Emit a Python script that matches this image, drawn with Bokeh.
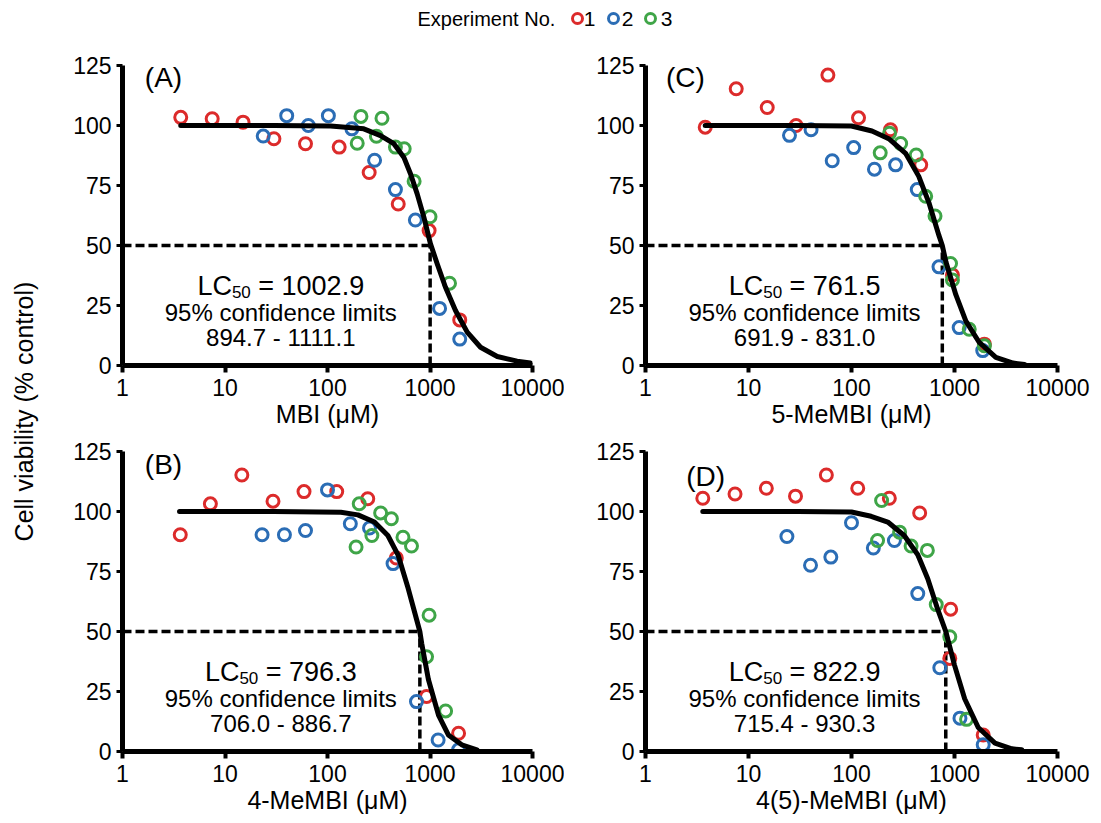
import math
from bokeh.plotting import figure
from bokeh.layouts import row, column
from bokeh.models import Range1d, FixedTicker, NumeralTickFormatter
from bokeh.core.properties import value
from bokeh.embed import file_html
from bokeh.resources import INLINE

FONT = "Liberation Sans"
RED, BLUE, GREEN = "#dc2b2b", "#2b6db5", "#3fa548"

# ---------------- data ----------------
legend_title = "Experiment No."
experiments = ["1", "2", "3"]
y_label = "Cell viability (% control)"
x_ticks = [1, 10, 100, 1000, 10000]
y_ticks = [0, 25, 50, 75, 100, 125]

# Panel A - MBI
a_label = "(A)"
a_xlabel = "MBI (μM)"
a_lc50 = 1002.9
a_ci = "894.7 - 1111.1"
a_x1 = [3.7, 7.5, 15, 30, 61, 130, 255, 490, 980, 1950]
a_y1 = [103.4, 102.8, 101.4, 94.5, 92.4, 91.0, 80.4, 67.3, 56.2, 19.0]
a_x2 = [23.6, 40, 65, 102, 173, 288, 460, 720, 1240, 1950]
a_y2 = [95.6, 104.1, 100.0, 104.1, 98.6, 85.5, 73.3, 60.6, 23.8, 11.0]
a_x3 = [195, 212, 300, 340, 460, 560, 700, 1000, 1550]
a_y3 = [92.6, 103.8, 95.5, 103.0, 91.0, 90.3, 76.8, 62.0, 34.3]
a_cx = [3.7, 10, 30, 107, 226, 329, 444, 555, 645, 750, 871, 1011, 1175, 1416,
        1773, 2307, 3110, 4530, 7080, 9550]
a_cy = [100, 100, 100, 99.8, 98.6, 95.8, 92.4, 86.8, 79.9, 71.5, 61.8, 50.7, 42.4,
        32.6, 22.9, 13.9, 7.6, 3.75, 1.8, 1.1]

# Panel B - 4-MeMBI
b_label = "(B)"
b_xlabel = "4-MeMBI (μM)"
b_lc50 = 796.3
b_ci = "706.0 - 886.7"
b_x1 = [3.66, 7.2, 14.6, 29.4, 59, 123, 247, 469, 925, 1900]
b_y1 = [90.3, 103.2, 115.2, 104.3, 108.3, 108.3, 105.3, 80.6, 22.9, 7.6]
b_x2 = [23, 38, 61, 100, 167, 257, 436, 738, 1200, 1900]
b_y2 = [90.3, 90.3, 92.1, 109.0, 94.9, 93.1, 78.3, 20.8, 4.8, 0.7]
b_x3 = [190, 204, 271, 330, 420, 545, 660, 925, 980, 1420]
b_y3 = [85.2, 103.2, 90.0, 99.4, 97.0, 89.3, 85.6, 39.5, 56.8, 16.9]
b_cx = [3.6, 30, 135, 198, 287, 388, 490, 613, 740, 796, 830, 965, 1210, 1510,
        2040, 2870]
b_cy = [100, 100, 99.7, 98.6, 95.6, 90, 81.7, 67.9, 55, 50, 45, 30, 15.2, 6.9,
        2.8, 0.7]

# Panel C - 5-MeMBI
c_label = "(C)"
c_xlabel = "5-MeMBI (μM)"
c_lc50 = 761.5
c_ci = "691.9 - 831.0"
c_x1 = [3.8, 7.6, 15.2, 29, 59, 117, 239, 470, 955, 1950]
c_y1 = [99.3, 115.3, 107.5, 100.0, 121.0, 103.2, 98.2, 83.6, 37.7, 8.9]
c_x2 = [25, 40.5, 65, 105, 167, 268, 435, 707, 1110, 1880]
c_y2 = [95.9, 98.2, 85.3, 90.8, 81.8, 83.6, 73.3, 41.1, 15.8, 6.2]
c_x3 = [190, 234, 300, 425, 525, 647, 915, 955, 1390, 1950]
c_y3 = [88.6, 96.8, 92.5, 87.7, 70.5, 62.3, 42.5, 35.6, 15.1, 8.2]
c_cx = [3.8, 30, 100, 158, 230, 335, 450, 565, 707, 761.5, 825, 1030, 1290, 1740,
        2520, 3700, 4800]
c_cy = [100, 100, 99.8, 97.7, 94.5, 88.4, 78.8, 67.8, 54.1, 50, 43.2, 29.5, 18.5,
        9.6, 3.4, 1.0, 0.4]

# Panel D - 4(5)-MeMBI
d_label = "(D)"
d_xlabel = "4(5)-MeMBI (μM)"
d_lc50 = 822.9
d_ci = "715.4 - 930.3"
d_x1 = [3.6, 7.4, 14.9, 28.6, 57, 115, 233, 459, 900, 918, 1900]
d_y1 = [105.5, 107.3, 109.7, 106.4, 115.2, 109.7, 105.5, 99.4, 38.8, 59.3, 6.9]
d_x2 = [23.6, 40, 63, 100, 163, 261, 440, 720, 1130, 1900]
d_y2 = [89.6, 77.6, 81.0, 95.3, 84.8, 87.9, 65.8, 34.9, 13.9, 2.8]
d_x3 = [179, 196, 293, 379, 545, 665, 900, 1310]
d_y3 = [87.9, 104.6, 91.4, 85.6, 83.8, 61.2, 47.8, 13.4]
d_cx = [3.6, 30, 100, 155, 225, 325, 440, 550, 690, 823, 1000, 1255, 1700, 2470,
        3600, 4500]
d_cy = [100, 100, 99.8, 98, 95.6, 90, 82, 72, 59, 50, 36, 22, 10, 3.5, 1.1, 0.7]

# ---------------- helpers ----------------
CW = {'0': .556, '1': .556, '2': .556, '3': .556, '4': .556, '5': .556, '6': .556,
      '7': .556, '8': .556, '9': .556, '.': .278, ' ': .278, '=': .584, 'L': .556,
      'C': .722}


def tw(s, size):
    return sum(CW.get(ch, .556) for ch in s) * size


def txt(p, x, y, s, size, align="center", baseline="middle", xo=0, yo=0, angle=0.0):
    p.text(x=[x], y=[y], text=[s], text_font=value(FONT), text_font_size=f"{size}px",
           text_color="black", text_align=align, text_baseline=baseline,
           x_offset=xo, y_offset=yo, angle=angle)


def panel(label, label_pos, xlabel, lc50, ci, series, cx, cy,
          width, height, left, right, top, bottom):
    p = figure(width=width, height=height, x_axis_type="log",
               x_range=Range1d(1, 10000), y_range=Range1d(0, 125),
               output_backend="svg", toolbar_location=None,
               min_border_left=left, min_border_right=right,
               min_border_top=top, min_border_bottom=bottom)
    p.outline_line_color = None
    p.grid.visible = False
    p.background_fill_color = "white"
    p.border_fill_color = "white"
    p.xaxis.ticker = FixedTicker(ticks=x_ticks)
    p.xaxis.formatter = NumeralTickFormatter(format="0")
    p.yaxis.ticker = FixedTicker(ticks=y_ticks)
    for ax in p.axis:
        ax.axis_line_width = 5
        ax.axis_line_color = "black"
        ax.major_tick_in = 0
        ax.minor_tick_line_color = None
        ax.major_label_text_font = FONT
        ax.major_label_text_font_size = "23px"
        ax.major_label_text_color = "black"
    p.xaxis.major_tick_out = 7
    p.xaxis.major_tick_line_width = 4
    p.xaxis.major_label_standoff = 6
    p.yaxis.major_tick_out = 6
    p.yaxis.major_tick_line_width = 3
    p.yaxis.major_label_standoff = 5
    p.xaxis.axis_label = xlabel
    p.xaxis.axis_label_text_font = FONT
    p.xaxis.axis_label_text_font_size = "25px"
    p.xaxis.axis_label_text_font_style = "normal"
    p.xaxis.axis_label_text_color = "black"
    p.xaxis.axis_label_standoff = 1

    # dashed LC50 guides
    p.line([1, lc50], [50, 50], line_dash="9 4", line_width=3.5, color="black")
    p.line([lc50, lc50], [0, 50], line_dash="9 4", line_width=3.5, color="black")

    for (xs, ys), col in zip(series, [RED, BLUE, GREEN]):
        p.scatter(xs, ys, marker="circle", size=12, fill_color=None,
                  line_color=col, line_width=3)

    p.line(cx, cy, line_width=5, color="black", line_join="round", line_cap="round")

    # texts
    txt(p, label_pos[0], label_pos[1], label, 28)
    tx = 35
    num = "= " + f"{lc50:.1f}"
    big, small = 27, 17
    w_lc, w_sub, w_sp, w_num = tw("LC", big), tw("50", small), tw(" ", big), tw(num, big)
    left_x = -(w_lc + w_sub + w_sp + w_num) / 2
    txt(p, tx, 33.0, "LC", big, align="left", baseline="alphabetic", xo=left_x)
    txt(p, tx, 33.0, "50", small, align="left", baseline="alphabetic",
        xo=left_x + w_lc, yo=6)
    txt(p, tx, 33.0, num, big, align="left", baseline="alphabetic",
        xo=left_x + w_lc + w_sub + w_sp)
    txt(p, tx, 22.0, "95% confidence limits", 24, baseline="alphabetic")
    txt(p, tx, 11.5, ci, 24, baseline="alphabetic")
    return p


def strip(w, h):
    p = figure(width=w, height=h, x_range=Range1d(0, w), y_range=Range1d(0, h),
               output_backend="svg", toolbar_location=None, min_border=0)
    p.axis.visible = False
    p.grid.visible = False
    p.outline_line_color = None
    return p


H_LEG = 38
T1, B1, T2, B2 = 27, 72, 14, 71
H1 = T1 + 300 + B1
H2 = T2 + 300 + B2
W_YL = 44
WL = 78 + 410 + 32
WR = 81 + 412 + 34

series_a = [(a_x1, a_y1), (a_x2, a_y2), (a_x3, a_y3)]
series_b = [(b_x1, b_y1), (b_x2, b_y2), (b_x3, b_y3)]
series_c = [(c_x1, c_y1), (c_x2, c_y2), (c_x3, c_y3)]
series_d = [(d_x1, d_y1), (d_x2, d_y2), (d_x3, d_y3)]

pA = panel(a_label, (2.51, 120), a_xlabel, a_lc50, a_ci, series_a, a_cx, a_cy,
           WL, H1, 78, 32, T1, B1)
pC = panel(c_label, (2.44, 120), c_xlabel, c_lc50, c_ci, series_c, c_cx, c_cy,
           WR, H1, 81, 34, T1, B1)
pB = panel(b_label, (2.51, 119.5), b_xlabel, b_lc50, b_ci, series_b, b_cx, b_cy,
           WL, H2, 78, 32, T2, B2)
pD = panel(d_label, (3.83, 114.5), d_xlabel, d_lc50, d_ci, series_d, d_cx, d_cy,
           WR, H2, 81, 34, T2, B2)

total_w = W_YL + WL + WR
leg = strip(total_w, H_LEG)
ly = H_LEG - 18
txt(leg, 417, ly, legend_title, 20, align="left")
for name, col, mx, nx in zip(experiments, [RED, BLUE, GREEN], [577, 613, 650], [589, 627, 666]):
    leg.scatter([mx], [ly], marker="circle", size=10, fill_color=None,
                line_color=col, line_width=3)
    txt(leg, nx, ly, name, 21)

ylab = strip(W_YL, H1 + H2)
txt(ylab, 23, (H1 + H2) - (411 - H_LEG), y_label, 25, angle=math.pi / 2)

root = column(leg, row(ylab, column(row(pA, pC), row(pB, pD))))

open("out.html", "w").write(file_html(root, INLINE))
